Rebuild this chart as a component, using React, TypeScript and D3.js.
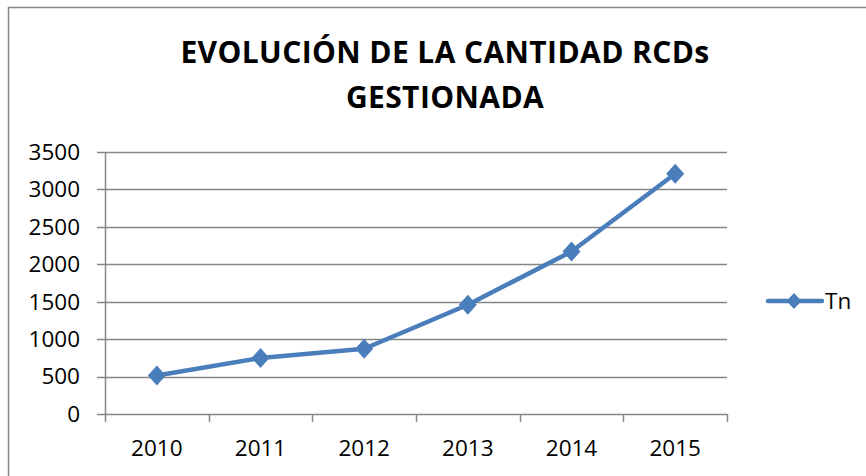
import React from "react";
import * as d3 from "d3";

const years = ["2010", "2011", "2012", "2013", "2014", "2015"];
const tn = [515, 748, 872, 1460, 2170, 3210];
const yTicks = [0, 500, 1000, 1500, 2000, 2500, 3000, 3500];
const titleLines = ["EVOLUCIÓN DE LA CANTIDAD RCDs", "GESTIONADA"];
const seriesName = "Tn";

const W = 866;
const H = 476;
const FONT = "'Open Sans', Lato, sans-serif";
const BLUE = "#4a7ebb";
const GRID = "#868686";

const App = () => {
  const margin = { left: 105, right: 727, top: 152, bottom: 414 };

  const x = d3
    .scaleBand()
    .domain(years)
    .range([margin.left, margin.right]);

  const y = d3
    .scaleLinear()
    .domain([0, 3500])
    .range([margin.bottom, margin.top]);

  const cx = (d: string) => (x(d) as number) + x.bandwidth() / 2;

  const line = d3
    .line<number>()
    .x((_, i) => cx(years[i]))
    .y((d) => y(d));

  const diamond = (px: number, py: number, w: number, h: number) =>
    `M${px},${py - h} L${px + w},${py} L${px},${py + h} L${px - w},${py} Z`;

  const legendY = 301;

  return (
    <svg
      width={W}
      height={H}
      style={{ position: "absolute", left: 0, top: 0, background: "#fff" }}
    >
      {/* chart frame */}
      <rect x={8.5} y={7.5} width={W} height={H} fill="#fff" stroke={GRID} strokeWidth={1.5} />

      {/* title */}
      {titleLines.map((t, i) => (
        <text
          key={t}
          x={445}
          y={63 + i * 45}
          textAnchor="middle"
          fontFamily={FONT}
          fontWeight="bold"
          fontSize={30}
          letterSpacing={0.4}
          fill="#000"
        >
          {t}
        </text>
      ))}

      {/* gridlines + y ticks */}
      {yTicks.map((t) => (
        <g key={t}>
          <line
            x1={margin.left - 8}
            x2={margin.right}
            y1={Math.round(y(t)) + 0.5}
            y2={Math.round(y(t)) + 0.5}
            stroke={GRID}
            strokeWidth={1.5}
          />
          <text
            x={80}
            y={y(t)}
            dy="0.35em"
            textAnchor="end"
            fontFamily={FONT}
            fontSize={22.5}
            fill="#000"
          >
            {t}
          </text>
        </g>
      ))}

      {/* y axis */}
      <line
        x1={margin.left + 0.5}
        x2={margin.left + 0.5}
        y1={margin.top}
        y2={margin.bottom}
        stroke={GRID}
        strokeWidth={1.5}
      />

      {/* x ticks */}
      {[...years.map((d) => x(d) as number), margin.right].map((v, i) => (
        <line
          key={i}
          x1={Math.round(v) + 0.5}
          x2={Math.round(v) + 0.5}
          y1={margin.bottom}
          y2={margin.bottom + 8}
          stroke={GRID}
          strokeWidth={1.5}
        />
      ))}
      {years.map((d) => (
        <text
          key={d}
          x={cx(d)}
          y={448}
          dy="0.35em"
          textAnchor="middle"
          fontFamily={FONT}
          fontSize={22.5}
          fill="#000"
        >
          {d}
        </text>
      ))}

      {/* series */}
      <path
        d={line(tn) as string}
        fill="none"
        stroke={BLUE}
        strokeWidth={4.5}
        strokeLinejoin="round"
      />
      {tn.map((v, i) => (
        <path key={i} d={diamond(cx(years[i]), y(v), 9, 10)} fill={BLUE} />
      ))}

      {/* legend */}
      <line
        x1={768}
        x2={822}
        y1={legendY}
        y2={legendY}
        stroke={BLUE}
        strokeWidth={4.5}
        strokeLinecap="round"
      />
      <path d={diamond(794, legendY, 7.5, 8)} fill={BLUE} />
      <text
        x={825}
        y={legendY}
        dy="0.35em"
        fontFamily={FONT}
        fontSize={22.5}
        fill="#000"
      >
        {seriesName}
      </text>
    </svg>
  );
};

export default App;
